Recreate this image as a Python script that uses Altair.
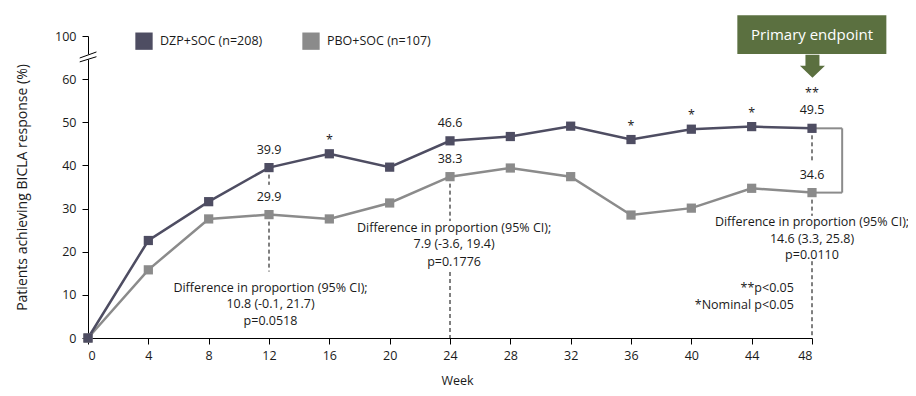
import altair as alt
import pandas as pd

# ---------------- data ----------------
weeks = [0, 4, 8, 12, 16, 20, 24, 28, 32, 36, 40, 44, 48]
dzp = [0, 22.6, 31.6, 39.5, 42.7, 39.6, 45.7, 46.7, 49.1, 46.0, 48.4, 49.0, 48.6]
pbo = [0, 15.8, 27.6, 28.6, 27.6, 31.3, 37.4, 39.4, 37.4, 28.5, 30.1, 34.7, 33.7]
series_names = ["DZP+SOC (n=208)", "PBO+SOC (n=107)"]
series_colors = ["#4e4d62", "#8b8b8b"]

y_tick_values = [0, 10, 20, 30, 40, 50, 60, 70]   # 70 is shown as "100" after the axis break

# value labels: (week, series index, text)
value_labels = [(12, 0, "39.9"), (12, 1, "29.9"), (24, 0, "46.6"),
                (24, 1, "38.3"), (48, 0, "49.5"), (48, 1, "34.6")]
star_weeks = [16, 36, 40, 44]
double_star_weeks = [48]

# annotation text blocks
diff_12 = ["Difference in proportion (95% CI);", "10.8 (-0.1, 21.7)", "p=0.0518"]
diff_24 = ["Difference in proportion (95% CI);", "7.9 (-3.6, 19.4)", "p=0.1776"]
diff_48 = ["Difference in proportion (95% CI);", "14.6 (3.3, 25.8)", "p=0.0110"]
notes = ["**p<0.05", "*Nominal p<0.05"]
endpoint_text = "Primary endpoint"

FONT = "Open Sans"
TXT = "#1a1a1a"
FS = 12.5

# ---------------- tables ----------------
rows = []
for name, vals in [(series_names[1], pbo), (series_names[0], dzp)]:
    for w, v in zip(weeks, vals):
        rows.append({"week": w, "value": v, "series": name})
df = pd.DataFrame(rows)

series_vals = [dzp, pbo]
lab_df = pd.DataFrame([{"week": w, "value": series_vals[s][weeks.index(w)], "label": t}
                       for w, s, t in value_labels])
star_df = pd.DataFrame([{"week": w, "value": dzp[weeks.index(w)], "label": "*"} for w in star_weeks])
dstar_df = pd.DataFrame([{"week": w, "value": dzp[weeks.index(w)], "label": "**"} for w in double_star_weeks])

i12, i24, i48 = weeks.index(12), weeks.index(24), weeks.index(48)
dash_df = pd.DataFrame([
    {"week": 12, "value": dzp[i12], "value2": 35.5},
    {"week": 12, "value": pbo[i12], "value2": 15.4},
    {"week": 24, "value": pbo[i24], "value2": 27.1},
    {"week": 24, "value": 15.3, "value2": 0},
    {"week": 48, "value": dzp[i48], "value2": 40.8},
    {"week": 48, "value": pbo[i48], "value2": 28.3},
    {"week": 48, "value": 17.8, "value2": 0},
])

block_rows = []
for wk, ys, lines in [(12.1, [11.6, 7.9, 4.0], diff_12),
                      (24.27, [25.6, 21.7, 17.7], diff_24),
                      (48.0, [26.8, 22.9, 19.3], diff_48)]:
    for yv, t in zip(ys, lines):
        block_rows.append({"week": wk, "value": yv, "label": t})
block_df = pd.DataFrame(block_rows)
notes_df = pd.DataFrame([{"week": 46.8, "value": 11.6, "label": notes[0]},
                         {"week": 46.8, "value": 7.7, "label": notes[1]}])

bracket_df = pd.DataFrame([
    {"week": 48, "week2": 50, "value": dzp[i48], "value2": dzp[i48]},
    {"week": 48, "week2": 50, "value": pbo[i48], "value2": pbo[i48]},
    {"week": 50, "week2": 50, "value": dzp[i48], "value2": pbo[i48]},
])

slash_df = pd.DataFrame([
    {"week": -0.55, "week2": 0.56, "value": 64.9, "value2": 66.3},
    {"week": -0.55, "week2": 0.56, "value": 64.0, "value2": 65.2},
])
gap_df = pd.DataFrame([{"week": -0.2, "week2": 0.2, "value": 64.55, "value2": 65.75}])

box_df = pd.DataFrame([{"week": 43.05, "week2": 52.93, "value": 65.8, "value2": 74.8}])
box_text_df = pd.DataFrame([{"week": 48.0, "value": 70.3, "label": endpoint_text}])
arrow_df = pd.DataFrame([{"week": 48.03, "value": 63.0}])

# ---------------- encodings ----------------
x_scale = alt.Scale(domain=[0, 48], nice=False, zero=False)
y_scale = alt.Scale(domain=[0, 70], nice=False)
color_scale = alt.Scale(domain=series_names, range=series_colors)

x_axis = alt.Axis(values=weeks, title="Week", grid=False, tickSize=6, labelPadding=5,
                  titleX=369, titleY=46, titleBaseline="alphabetic",
                  titleAlign="center")
y_axis = alt.Axis(values=y_tick_values, title="Patients achieving BICLA response (%)",
                  grid=False, tickSize=6, labelPadding=6,
                  labelExpr="datum.value == 70 ? '100' : datum.label",
                  titleX=-66, titleY=151, titleAngle=-90, titleBaseline="middle",
                  titleAlign="center", titleFontSize=14)

X = alt.X("week:Q", scale=x_scale, axis=x_axis)
Y = alt.Y("value:Q", scale=y_scale, axis=y_axis)

base = alt.Chart(df)

lines = base.mark_line(strokeWidth=2.5).encode(
    x=X, y=Y,
    color=alt.Color("series:N", scale=color_scale, legend=None),
    detail="series:N",
)

dashes = alt.Chart(dash_df).mark_rule(color="black", strokeWidth=1, strokeDash=[4, 3]).encode(
    x=X, y=Y, y2=alt.Y2("value2:Q"))

points = base.mark_point(shape="square", filled=True, size=85, opacity=1).encode(
    x=X, y=Y,
    color=alt.Color("series:N", scale=color_scale, legend=alt.Legend(
        title=None, orient="none", legendX=47, legendY=-4, direction="horizontal",
        symbolType="square", symbolSize=300, symbolStrokeWidth=0, symbolOpacity=1,
        labelFontSize=FS, labelFont=FONT, labelColor=TXT, labelOffset=7,
        columnPadding=39, padding=0, labelLimit=300)),
)

labels = alt.Chart(lab_df).mark_text(font=FONT, fontSize=FS, color=TXT, dy=-18,
                                     baseline="middle").encode(x=X, y=Y, text="label:N")
stars = alt.Chart(star_df).mark_text(font=FONT, fontSize=FS, color=TXT, dy=-10,
                                     baseline="alphabetic").encode(x=X, y=Y, text="label:N")
dstars = alt.Chart(dstar_df).mark_text(font=FONT, fontSize=FS, color=TXT, dy=-31,
                                       baseline="alphabetic").encode(x=X, y=Y, text="label:N")

blocks = alt.Chart(block_df).mark_text(font=FONT, fontSize=FS, color=TXT,
                                       baseline="middle").encode(x=X, y=Y, text="label:N")
note_txt = alt.Chart(notes_df).mark_text(font=FONT, fontSize=FS, color=TXT, align="right",
                                         baseline="middle").encode(x=X, y=Y, text="label:N")

bracket = alt.Chart(bracket_df).mark_rule(color="#8b8b8b", strokeWidth=2).encode(
    x=X, x2=alt.X2("week2:Q"), y=Y, y2=alt.Y2("value2:Q"))

gap = alt.Chart(gap_df).mark_rect(color="white").encode(
    x=X, x2=alt.X2("week2:Q"), y=Y, y2=alt.Y2("value2:Q"))
slashes = alt.Chart(slash_df).mark_rule(color="black", strokeWidth=1).encode(
    x=X, x2=alt.X2("week2:Q"), y=Y, y2=alt.Y2("value2:Q"))

box = alt.Chart(box_df).mark_rect(color="#5b7040").encode(
    x=X, x2=alt.X2("week2:Q"), y=Y, y2=alt.Y2("value2:Q"))
box_text = alt.Chart(box_text_df).mark_text(font=FONT, fontSize=15, color="white",
                                            baseline="middle").encode(x=X, y=Y, text="label:N")
arrow_path = "M-0.56,-0.92L0.56,-0.92L0.56,-0.04L1,-0.04L0,0.92L-1,-0.04L-0.56,-0.04Z"
arrow = alt.Chart(arrow_df).mark_point(shape=arrow_path, filled=True, size=625, opacity=1,
                                       color="#5b7040", strokeWidth=0).encode(x=X, y=Y)

chart = alt.layer(
    dashes, bracket, lines, points, labels, stars, dstars, blocks, note_txt,
    gap, slashes, box, box_text, arrow
).resolve_scale(color="independent").properties(
    width=724, height=302,
    autosize=alt.AutoSizeParams(type="none"),
    padding={"left": 80, "top": 28, "right": 96, "bottom": 50},
).configure_view(stroke=None).configure_axis(
    domainColor="black", tickColor="black", labelColor=TXT, titleColor=TXT,
    labelFont=FONT, titleFont=FONT, labelFontSize=FS, titleFontSize=FS,
    titleFontWeight="normal", domainWidth=1, tickWidth=1,
).configure_text(font=FONT)

chart.save("out.html", embed_options={"renderer": "svg", "actions": False})
